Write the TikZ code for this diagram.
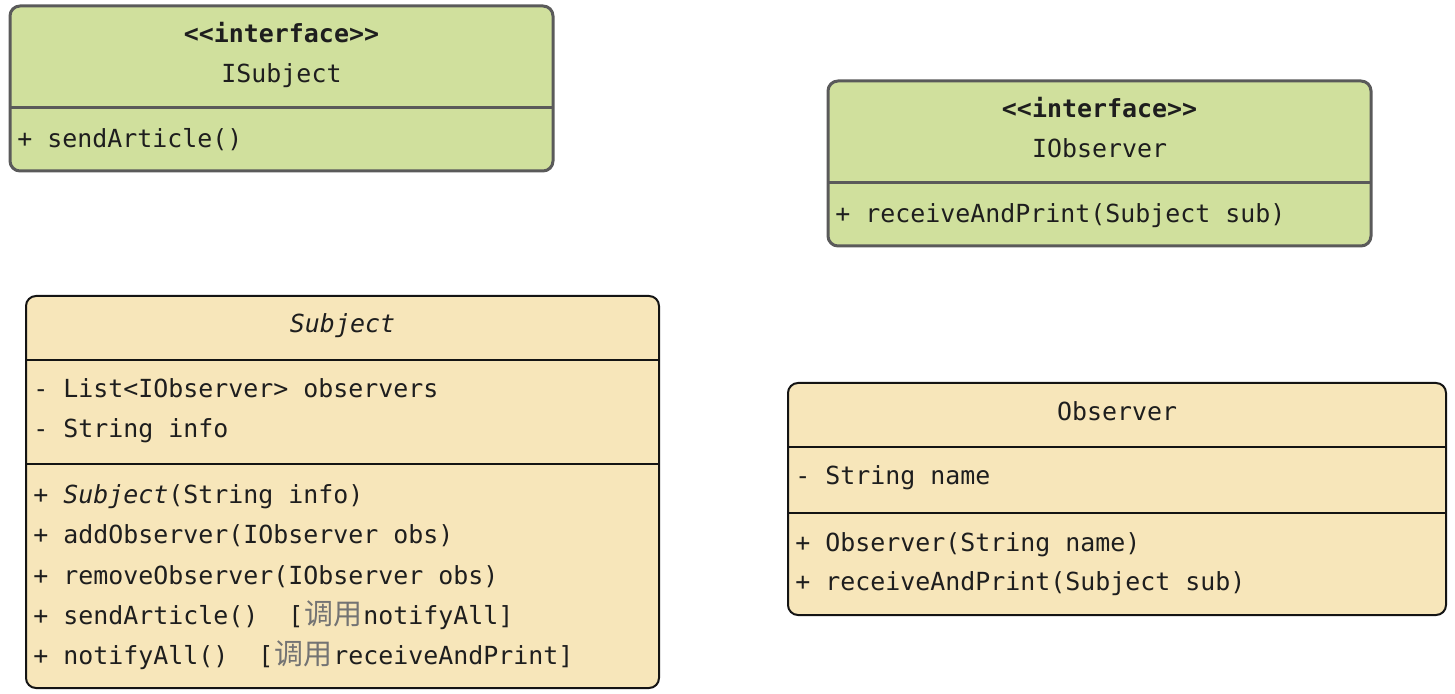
\documentclass[tikz,border=0pt]{standalone}
\usepackage{fontspec}
\setmonofont{DejaVu Sans Mono}
\newfontfamily\cjkfont{Noto Sans CJK SC}
\usepackage{xcolor}
\usepackage{tikz}
\usetikzlibrary{positioning}
\definecolor{ifaceGreen}{RGB}{208, 224, 157}
\definecolor{ifaceGray}{RGB}{90, 90, 90}
\definecolor{classYellow}{RGB}{247, 230, 186}
\definecolor{classBlack}{RGB}{20, 20, 20}
\definecolor{textBlack}{RGB}{30, 30, 30}
\definecolor{noteGray}{RGB}{115, 115, 115}
\newcommand{\umlfont}{\ttfamily\fontsize{12.46}{15}\selectfont}
\newcommand{\calls}{\makebox[30pt]{\cjkfont\fontsize{14.5}{15}\selectfont\color{noteGray}调用}}
\tikzset{
    iface/.style={draw=ifaceGray, fill=ifaceGreen, line width=1.5pt, rounded corners=5pt},
    ifaceline/.style={draw=ifaceGray, line width=1.5pt},
    klass/.style={draw=classBlack, fill=classYellow, line width=1pt, rounded corners=5pt},
    klassline/.style={draw=classBlack, line width=1pt},
    title/.style={anchor=base, inner sep=0pt, text=textBlack, font=\umlfont},
    member/.style={anchor=base west, inner sep=0pt, text=textBlack, font=\umlfont}
}
\begin{document}
\begin{tikzpicture}[x=0.5pt, y=-0.5pt]
            \useasboundingbox (0,0) rectangle (1455,694);

            % ISubject
            \draw[iface] (10,6) rectangle (553,171);
            \draw[ifaceline] (10,108)--(553,108);
            \node[title, font=\umlfont\bfseries] (isubject-st) at (281.5,43) {<<interface>>};
            \node[title] (isubject-name) at (281.5,83) {ISubject};
            \node[member] (isubject-m1) at (17,148) {+ sendArticle()};

            % IObserver
            \draw[iface] (828,81) rectangle (1371,246);
            \draw[ifaceline] (828,183)--(1371,183);
            \node[title, font=\umlfont\bfseries] (iobserver-st) at (1099.5,118) {<<interface>>};
            \node[title] (iobserver-name) at (1099.5,158) {IObserver};
            \node[member] (iobserver-m1) at (835,223) {+ receiveAndPrint(Subject sub)};

            % Subject
            \draw[klass] (26,296) rectangle (659,688);
            \draw[klassline] (26,360)--(659,360);
            \draw[klassline] (26,464)--(659,464);
            \node[title, font=\umlfont\itshape] (subject-name) at (342.5,333) {Subject};
            \node[member] (subject-a1) at (33,398) {- List<IObserver> observers};
            \node[member] (subject-a2) at (33,438) {- String info};
            \node[member] (subject-m1) at (33,503) {+ \textit{Subject}(String info)};
            \node[member] (subject-m2) at (33,543) {+ addObserver(IObserver obs)};
            \node[member] (subject-m3) at (33,584) {+ removeObserver(IObserver obs)};
            \node[member] (subject-m4) at (33,624) {+ sendArticle()~~[\calls notifyAll]};
            \node[member] (subject-m5) at (33,664) {+ notifyAll()~~[\calls receiveAndPrint]};

            % Observer
            \draw[klass] (788,383) rectangle (1446,615);
            \draw[klassline] (788,447)--(1446,447);
            \draw[klassline] (788,513)--(1446,513);
            \node[title] (observer-name) at (1117,421) {Observer};
            \node[member] (observer-a1) at (795,485) {- String name};
            \node[member] (observer-m1) at (795,552) {+ Observer(String name)};
            \node[member] (observer-m2) at (795,590) {+ receiveAndPrint(Subject sub)};
        \end{tikzpicture}
\end{document}
